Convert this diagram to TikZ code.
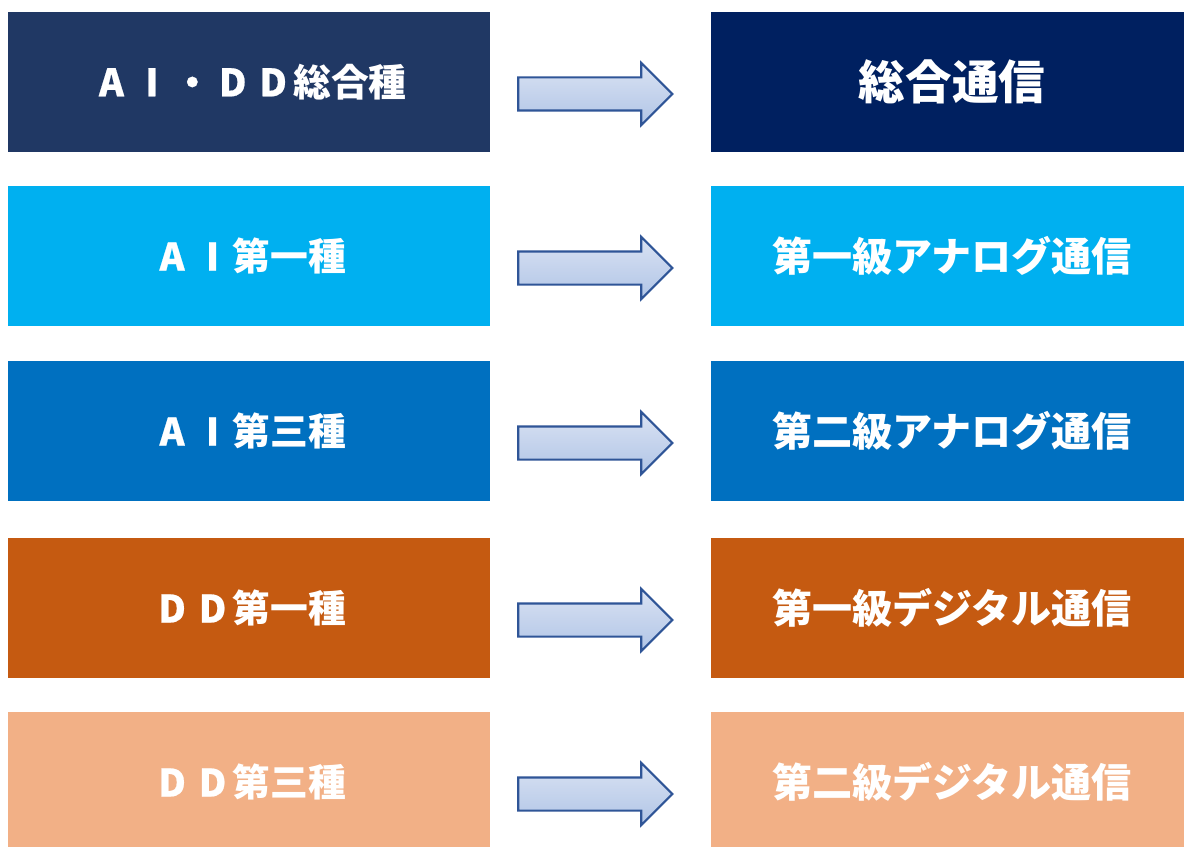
\documentclass[tikz,border=0pt]{standalone}
\usepackage{fontspec}
\newfontfamily\jpfont{Noto Sans CJK JP}
\newfontfamily\latfont{Noto Sans CJK JP}[FakeBold=0.6]
\usetikzlibrary{shapes.arrows}
\definecolor{navyA}{HTML}{203864}
\definecolor{navyB}{HTML}{002060}
\definecolor{skyblue}{HTML}{00B0F0}
\definecolor{midblue}{HTML}{0070C0}
\definecolor{rust}{HTML}{C55A11}
\definecolor{peach}{HTML}{F2B086}
\definecolor{arrowline}{HTML}{2F5597}
\definecolor{arrowtop}{HTML}{DAE3F3}
\definecolor{arrowbot}{HTML}{B0C4E6}
\newcommand{\wch}[1]{\makebox[1.07em]{\latfont #1}}
\tikzset{
  cardbox/.style={minimum width=9.64cm, minimum height=2.8cm, inner sep=0pt, text=white, font=\jpfont\bfseries\fontsize{22.8}{26}\selectfont},
  leftcard/.style={cardbox, font=\jpfont\bfseries\fontsize{21.5}{26}\selectfont},
  blockarrow/.style={single arrow, draw=arrowline, line width=1.2pt, top color=arrowtop, bottom color=arrowbot,
    minimum height=3.08cm, inner xsep=0pt, inner ysep=0.31cm, single arrow head extend=0.29cm, single arrow tip angle=90}
}
\begin{document}
\begin{tikzpicture}
\useasboundingbox (0,0) rectangle (23.68,-16.92);
\node [leftcard, fill=navyA] (aidd) at (4.98,-1.64) {\wch{A}\wch{I}\wch{・}\wch{D}\wch{D}総合種};
\node [leftcard, fill=skyblue] (ai1) at (4.98,-5.12) {\wch{A}\wch{I}第一種};
\node [leftcard, fill=midblue] (ai3) at (4.98,-8.62) {\wch{A}\wch{I}第三種};
\node [leftcard, fill=rust] (dd1) at (4.98,-12.16) {\wch{D}\wch{D}第一種};
\node [leftcard, fill=peach] (dd3) at (4.98,-15.64) {\wch{D}\wch{D}第三種};
\node [cardbox, fill=navyB, font=\jpfont\bfseries\fontsize{26.5}{30}\selectfont] (sogo) at (19.04,-1.64) {総合通信};
\node [cardbox, fill=skyblue] (ana1) at (19.04,-5.12) {第一級アナログ通信};
\node [cardbox, fill=midblue] (ana2) at (19.04,-8.62) {第二級アナログ通信};
\node [cardbox, fill=rust] (dig1) at (19.04,-12.16) {第一級デジタル通信};
\node [cardbox, fill=peach] (dig2) at (19.04,-15.64) {第二級デジタル通信};
\node [blockarrow] (arr1) at (11.74,-1.88) {};
\node [blockarrow] (arr2) at (11.74,-5.36) {};
\node [blockarrow] (arr3) at (11.74,-8.86) {};
\node [blockarrow] (arr4) at (11.74,-12.40) {};
\node [blockarrow] (arr5) at (11.74,-15.88) {};
\end{tikzpicture}
\end{document}
